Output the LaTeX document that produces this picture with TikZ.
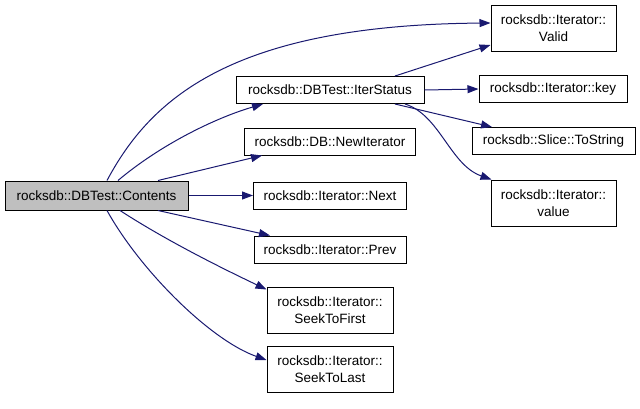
\documentclass[tikz,border=0pt]{standalone}
\usepackage{fontspec}
\setmainfont{Liberation Sans}
\usetikzlibrary{arrows.meta}

\definecolor{callblue}{RGB}{25,25,112}
\definecolor{rootgray}{RGB}{191,191,191}

\begin{document}
\begin{tikzpicture}[
  x=1pt, y=-1pt,
  every node/.style={draw, line width=1pt, fill=white, font=\fontsize{13.5}{17}\selectfont, inner sep=0pt, align=center},
  fn/.style={minimum height=27pt},
  fntwo/.style={minimum height=46pt, minimum width=125pt},
  call/.style={draw=callblue, line width=1pt, -{Triangle[length=11pt, width=8pt]}, fill=none}
]
\useasboundingbox (0,0) rectangle (640,408);

% root
\node[fn, fill=rootgray, minimum width=183pt, minimum height=29pt] (contents) at (96.5,195.5) {rocksdb::DBTest::Contents};

% callees
\node[fn, minimum width=188pt] (iterstatus) at (330,90) {rocksdb::DBTest::IterStatus};
\node[fn, minimum width=171pt] (newiter) at (330,141.5) {rocksdb::DB::NewIterator};
\node[fn, minimum width=153pt] (next) at (330,195.5) {rocksdb::Iterator::Next};
\node[fn, minimum width=152pt] (prev) at (330,249.5) {rocksdb::Iterator::Prev};
\node[fntwo, minimum width=126pt] (seekfirst) at (330,310.5) {rocksdb::Iterator::\\SeekToFirst};
\node[fntwo, minimum width=126pt] (seeklast) at (330,369) {rocksdb::Iterator::\\SeekToLast};

\node[fntwo] (valid) at (553.5,28) {rocksdb::Iterator::\\Valid};
\node[fn, minimum width=148pt] (key) at (553,89) {rocksdb::Iterator::key};
\node[fn, minimum width=163pt] (tostring) at (553.5,141) {rocksdb::Slice::ToString};
\node[fntwo] (value) at (553.5,203) {rocksdb::Iterator::\\value};

% edges from the root
\draw[call] ([xshift=10.5pt]contents.north) .. controls (150,100) and (230,25) .. ([yshift=5pt]valid.west);
\draw[call] ([xshift=21.5pt]contents.north) .. controls (160,145) and (215,118) .. ([xshift=-67pt]iterstatus.south);
\draw[call] ([xshift=61.5pt]contents.north) -- ([xshift=-68pt]newiter.south);
\draw[call] (contents.east) -- (next.west);
\draw[call] ([xshift=61.5pt]contents.south) -- ([xshift=-60pt]prev.north);
\draw[call] ([xshift=23.5pt]contents.south) .. controls (170,243) and (230,272) .. ([yshift=21pt]seekfirst.west);
\draw[call] ([xshift=10.5pt]contents.south) .. controls (140,270) and (210,340) .. ([yshift=9pt]seeklast.west);

% edges from IterStatus
\draw[call] ([xshift=65pt]iterstatus.north) -- ([yshift=-17pt]valid.west);
\draw[call] (iterstatus.east) -- (key.west);
\draw[call] ([xshift=65pt]iterstatus.south) -- ([xshift=-61.5pt]tostring.north);
\draw[call] ([xshift=75pt]iterstatus.south) .. controls (440,115) and (450,165) .. ([xshift=1pt]value.north west);
\end{tikzpicture}
\end{document}
